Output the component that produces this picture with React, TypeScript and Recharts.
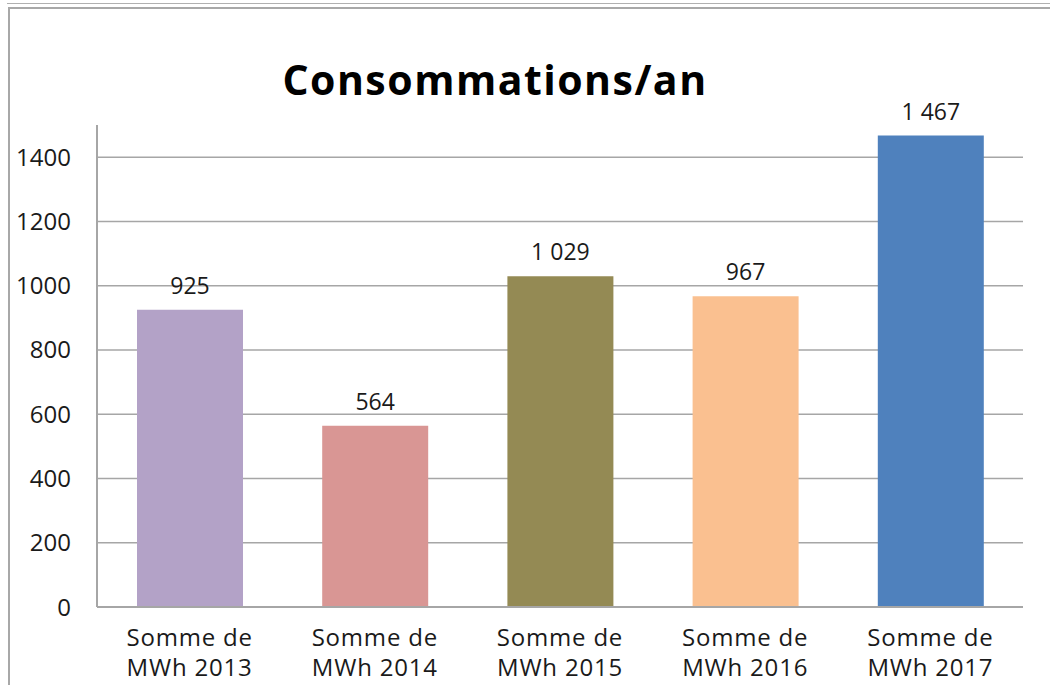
import { BarChart, Bar, XAxis, YAxis, CartesianGrid, Cell, LabelList } from "recharts";

const categories = [
  "Somme de MWh 2013",
  "Somme de MWh 2014",
  "Somme de MWh 2015",
  "Somme de MWh 2016",
  "Somme de MWh 2017",
];
const values = [925, 564, 1029, 967, 1467];
const yTicks = [0, 200, 400, 600, 800, 1000, 1200, 1400];
const colors = ["#B3A2C7", "#D99694", "#948A54", "#FAC090", "#4F81BD"];

const data = categories.map((c, i) => ({ name: c, value: values[i] }));

const FONT = "'Open Sans', sans-serif";

// "1 029" style thousands separator, like the French Excel labels
const fmt = (v: number) => {
  const s = String(v);
  return s.length > 3 ? s.slice(0, -3) + " " + s.slice(-3) : s;
};

function CategoryTick({ x, y, payload }: any) {
  const text: string = payload.value;
  const cut = text.indexOf(" MWh");
  return (
    <text x={x} y={y} textAnchor="middle" fill="#1a1a1a" fontSize={24} fontFamily={FONT} letterSpacing={0.8}>
      <tspan x={x} dy={31}>{text.slice(0, cut)}</tspan>
      <tspan x={x} dy={30}>{text.slice(cut + 1)}</tspan>
    </text>
  );
}

export default function App() {
  return (
    <div style={{ position: "absolute", left: 0, top: 0, width: 1050, height: 685, background: "#fff" }}>
      {/* spreadsheet frame around the chart */}
      <div style={{ position: "absolute", left: 7, top: 3, right: 0, height: 1, background: "#b0b0b0" }} />
      <div style={{ position: "absolute", left: 8, top: 7, right: 0, height: 2, background: "#a8a8a8" }} />
      <div style={{ position: "absolute", left: 8, top: 7, bottom: 0, width: 2, background: "#a8a8a8" }} />
      <div
        style={{
          position: "absolute",
          left: 0,
          width: 990,
          top: 51,
          textAlign: "center",
          fontFamily: FONT,
          fontWeight: 700,
          fontSize: 41,
          letterSpacing: 1.5,
          color: "#000",
        }}
      >
        Consommations/an
      </div>
      <BarChart
        width={1050}
        height={685}
        data={data}
        margin={{ top: 125, right: 27, left: 0, bottom: 8 }}
        barSize={106}
      >
        <CartesianGrid vertical={false} stroke="#a6a6a6" strokeWidth={1.5} syncWithTicks />
        <XAxis
          dataKey="name"
          height={70}
          tickLine={false}
          axisLine={{ stroke: "#a6a6a6", strokeWidth: 2 }}
          tick={<CategoryTick />}
          interval={0}
        />
        <YAxis
          width={97}
          domain={[0, 1500]}
          ticks={yTicks}
          tickLine={false}
          axisLine={{ stroke: "#a6a6a6", strokeWidth: 2 }}
          tickMargin={20}
          tick={{ fill: "#1a1a1a", fontSize: 24, fontFamily: FONT }}
        />
        <Bar dataKey="value" isAnimationActive={false}>
          {data.map((d, i) => (
            <Cell key={d.name} fill={colors[i]} />
          ))}
          <LabelList
            dataKey="value"
            position="top"
            offset={16}
            formatter={(v: any) => fmt(Number(v))}
            style={{ fill: "#1a1a1a", fontSize: 23, fontFamily: FONT }}
          />
        </Bar>
      </BarChart>
    </div>
  );
}
